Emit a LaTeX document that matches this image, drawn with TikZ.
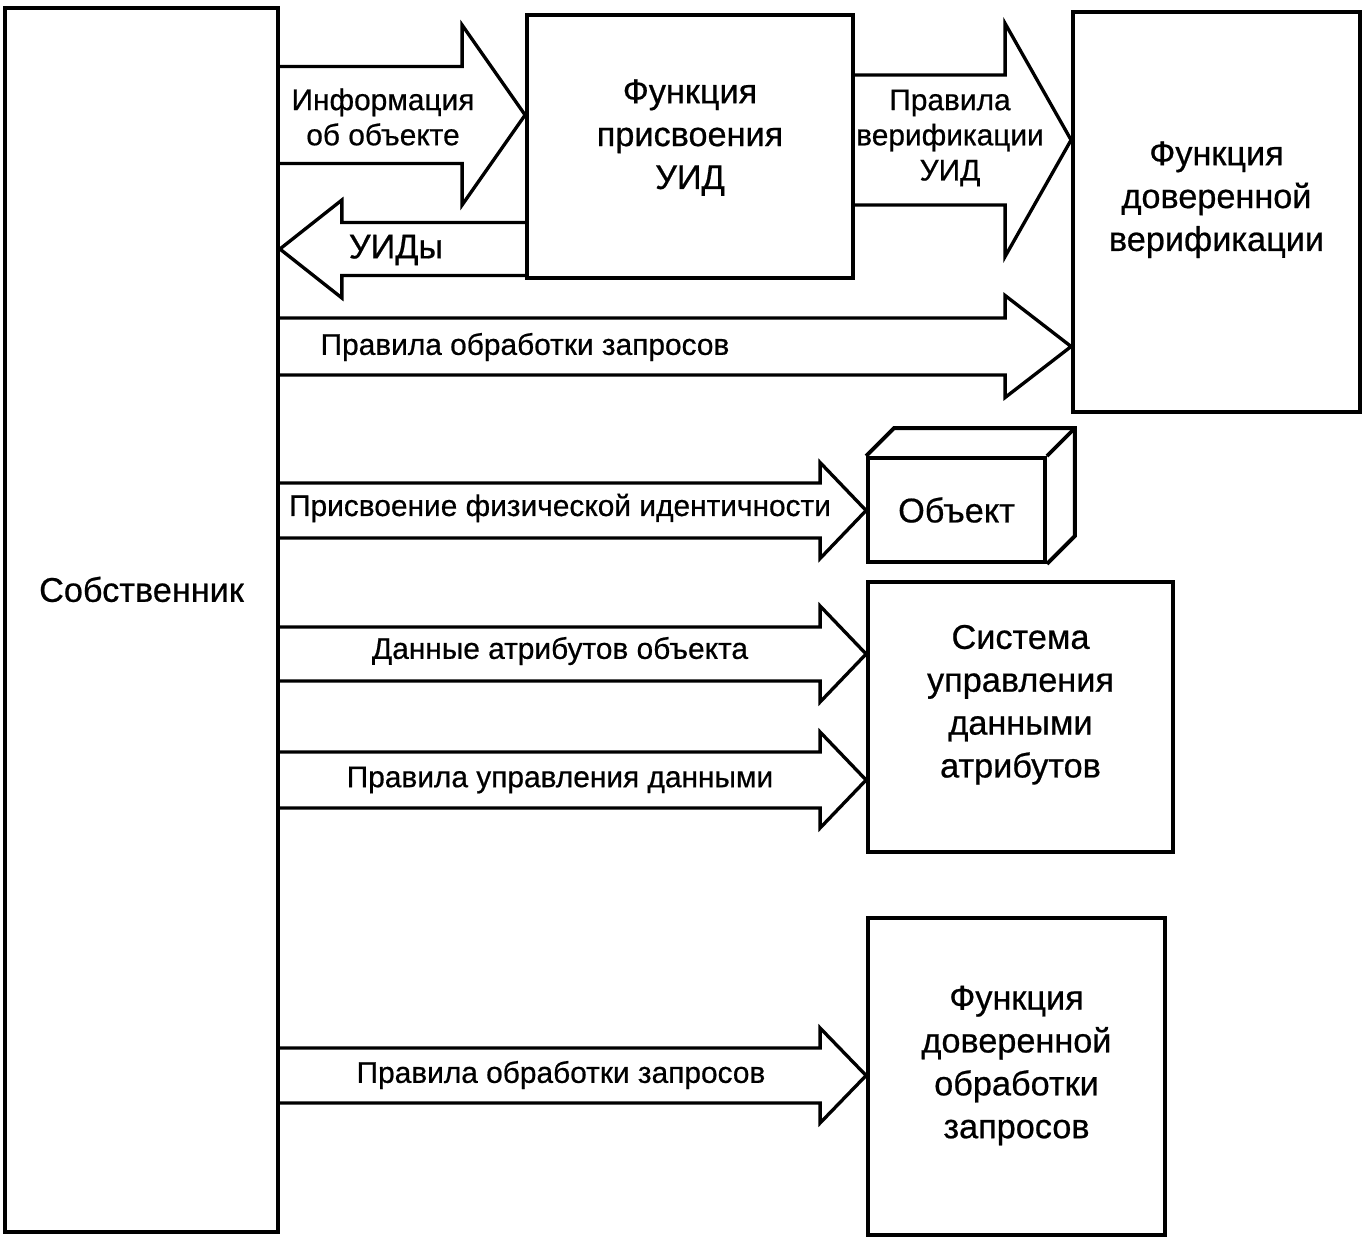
\documentclass[tikz,border=0pt]{standalone}
\usepackage{fontspec}
\setmainfont{Liberation Sans}[FakeBold=0.6]
\usetikzlibrary{positioning,calc}

\newcommand{\boxfont}{\fontsize{19.5}{24.4}\selectfont}
\newcommand{\lblfont}{\fontsize{17}{20}\selectfont}
% block arrow: from, to, y, body half, head half, head length (negative = pointing left)
\newcommand{\fatarrow}[6]{%
  \coordinate (fa-s) at (#1 |- 0,#3);
  \coordinate (fa-t) at (#2 |- 0,#3);
  \pgfmathsetmacro{\fahl}{-1*(#6)}
  \draw[fat] ($(fa-s)+(0,-#4)$) -- ($(fa-t)+(\fahl,-#4)$) -- ($(fa-t)+(\fahl,-#5)$) -- (fa-t)
    -- ($(fa-t)+(\fahl,#5)$) -- ($(fa-t)+(\fahl,#4)$) -- ($(fa-s)+(0,#4)$);
}

\begin{document}
\begin{tikzpicture}[x=0.02cm, y=-0.02cm,
    box/.style={rectangle, draw, line width=2.2pt, align=center, font=\boxfont, inner sep=0pt},
    lbl/.style={align=center, font=\lblfont, inner sep=0pt},
    fat/.style={line width=1.9pt, line join=miter},
    lift/.style={text depth=#1}]
            \useasboundingbox (0,0) rectangle (1366,1240);

            \node (own) [box, minimum width=5.46cm, minimum height=24.48cm, lift=35pt] at (141.5,620) {Собственник};
            \node (fpr) [box, minimum width=6.52cm, minimum height=5.26cm, lift=14pt] at (690,146.5) {Функция\\присвоения\\УИД};
            \node (fdv) [box, minimum width=5.74cm, minimum height=8cm, lift=18pt] at (1216.5,212) {Функция\\доверенной\\верификации};
            \node (obj) [box, minimum width=3.54cm, minimum height=2.08cm] at (956.5,510) {Объект};
            \node (sud) [box, minimum width=6.1cm, minimum height=5.4cm, lift=18pt] at (1020.5,717) {Система\\управления\\данными\\атрибутов};
            \node (fdo) [box, minimum width=5.94cm, minimum height=6.34cm, lift=16.5pt] at (1016.5,1076.5) {Функция\\доверенной\\обработки\\запросов};

            % object drawn as a box
            \draw [line width=2.2pt] (obj.north west) -- ++(28,-28) -| ($(obj.south east)+(28,-28)$) -- (obj.south east);
            \draw [line width=2.2pt] (obj.north east) -- ++(28,-28);

            \fatarrow{own.east}{fpr.west}{115}{48.5}{90}{63}
            \fatarrow{fpr.west}{own.east}{249}{26.5}{49}{-62}
            \fatarrow{fpr.east}{fdv.west}{140}{65}{116.5}{66}
            \fatarrow{own.east}{fdv.west}{346.5}{28.5}{51}{66}
            \fatarrow{own.east}{obj.west}{510.5}{27.5}{48}{46}
            \fatarrow{own.east}{sud.west}{654}{27}{48}{46}
            \fatarrow{own.east}{sud.west}{780}{28}{48}{46}
            \fatarrow{own.east}{fdo.west}{1075.5}{27.5}{47.5}{46}

            \node (l-info) [lbl] at (383,117) {Информация\\об объекте};
            \node (l-uid) [lbl, font=\boxfont] at (396,250) {УИДы};
            \node (l-ver) [lbl] at (950,138) {Правила\\верификации\\УИД};
            \node (l-req1) [lbl] at (525,347) {Правила обработки запросов};
            \node (l-phys) [lbl] at (560,508) {Присвоение физической идентичности};
            \node (l-attr) [lbl] at (560,651) {Данные атрибутов объекта};
            \node (l-rule) [lbl] at (560,780) {Правила управления данными};
            \node (l-req2) [lbl] at (561,1075) {Правила обработки запросов};
\end{tikzpicture}
\end{document}
